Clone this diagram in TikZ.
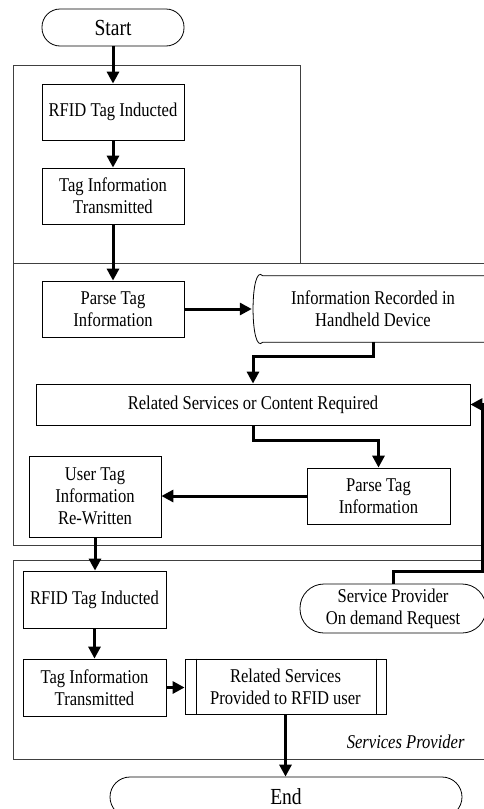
\documentclass[tikz,border=0pt]{standalone}
\usepackage{fontspec}
\setmainfont[FakeStretch=0.85]{Liberation Serif}
\usetikzlibrary{arrows.meta}
\begin{document}
\begin{tikzpicture}[x=1pt,y=-1pt,
  font=\fontsize{19.5}{22}\selectfont,
  box/.style={draw,line width=0.8pt,inner sep=0pt,align=center},
  term/.style={draw,line width=0.8pt,inner sep=0pt,align=center,rounded corners=18pt},
  flow/.style={line width=3pt,-{Triangle[length=12pt,width=12pt]}},
  lane/.style={line width=0.9pt,draw=black!75}]
\useasboundingbox (0,0) rectangle (484,809);
\clip (0,0) rectangle (484,809);

% swim lanes
\draw[lane] (13,65) rectangle (300,263);
\draw[lane] (490,263) -- (13,263) -- (13,545) -- (490,545);
\draw[lane] (490,560) -- (13,560) -- (13,759) -- (490,759);
\node[anchor=east,font=\fontsize{19.5}{22}\selectfont\itshape] (lanelabel) at (468,742) {Services Provider};

% nodes
\node[term,minimum width=142pt,minimum height=37pt,font=\fontsize{23}{26}\selectfont] (start) at (113,27.5) {Start};
\node[box,minimum width=142pt,minimum height=56pt] (t1) at (113,112) {RFID Tag Inducted};
\node[box,minimum width=142pt,minimum height=56pt] (t2) at (113,196) {Tag Information\\Transmitted};
\node[box,minimum width=142pt,minimum height=56pt] (p1) at (113,309) {Parse Tag\\Information};
\node[inner sep=0pt,minimum width=242pt,minimum height=66pt,align=center] (rec) at (373,309) {Information Recorded in\\Handheld Device};
\draw[line width=0.8pt] ([xshift=11pt]rec.north west) -- (rec.north east)
  (rec.south east) -- ([xshift=11pt]rec.south west)
  .. controls ([xshift=-2pt,yshift=-14pt]rec.south west) and ([xshift=-2pt,yshift=14pt]rec.north west) .. ([xshift=11pt]rec.north west);
\node[box,minimum width=434pt,minimum height=41pt] (rel) at (253,404.5) {Related Services or Content Required};
\node[box,minimum width=143pt,minimum height=56pt] (p2) at (378.5,496) {Parse Tag\\Information};
\node[box,minimum width=132pt,minimum height=81pt] (ut) at (95,496.5) {User Tag\\Information\\Re-Written};
\node[box,minimum width=143pt,minimum height=57pt] (r2) at (94.5,599.5) {RFID Tag Inducted};
\node[box,minimum width=143pt,minimum height=57pt] (t3) at (94.5,687.5) {Tag Information\\Transmitted};
\node[box,minimum width=201pt,minimum height=55pt] (rp) at (285.5,686.5) {Related Services\\Provided to RFID user};
\draw[line width=0.8pt] ([xshift=12pt]rp.north west) -- ([xshift=12pt]rp.south west)
  ([xshift=-10pt]rp.north east) -- ([xshift=-10pt]rp.south east);
\node[term,rounded corners=24pt,minimum width=186pt,minimum height=49pt] (sp) at (393,608.5) {Service Provider\\On demand Request};
\node[term,rounded corners=20pt,minimum width=352pt,minimum height=40pt,font=\fontsize{23}{26}\selectfont] (end) at (286,797) {End};

% bend points
\coordinate (k1) at (253,356);
\coordinate (k2) at (253,440);
\coordinate (k3) at (482,571);

% connectors
\draw[flow] (start) -- (t1);
\draw[flow] (t1) -- (t2);
\draw[flow] (t2) -- (p1);
\draw[flow] (p1.east) -- (rec.west);
\draw[flow] (rec.south) |- (k1) -- (rel.north);
\draw[flow] (rel.south) -- (k2) -| (p2.north);
\draw[flow] (p2.west) -- (ut.east |- p2.west);
\draw[flow] (ut.south) -- (ut.south |- r2.north);
\draw[flow] (r2) -- (t3);
\draw[flow] (t3.east) -- (rp.west |- t3.east);
\draw[flow] (rp.south) -- (rp.south |- end.north);
\draw[flow] (sp.north) |- (k3) |- (rel.east);
\end{tikzpicture}
\end{document}
